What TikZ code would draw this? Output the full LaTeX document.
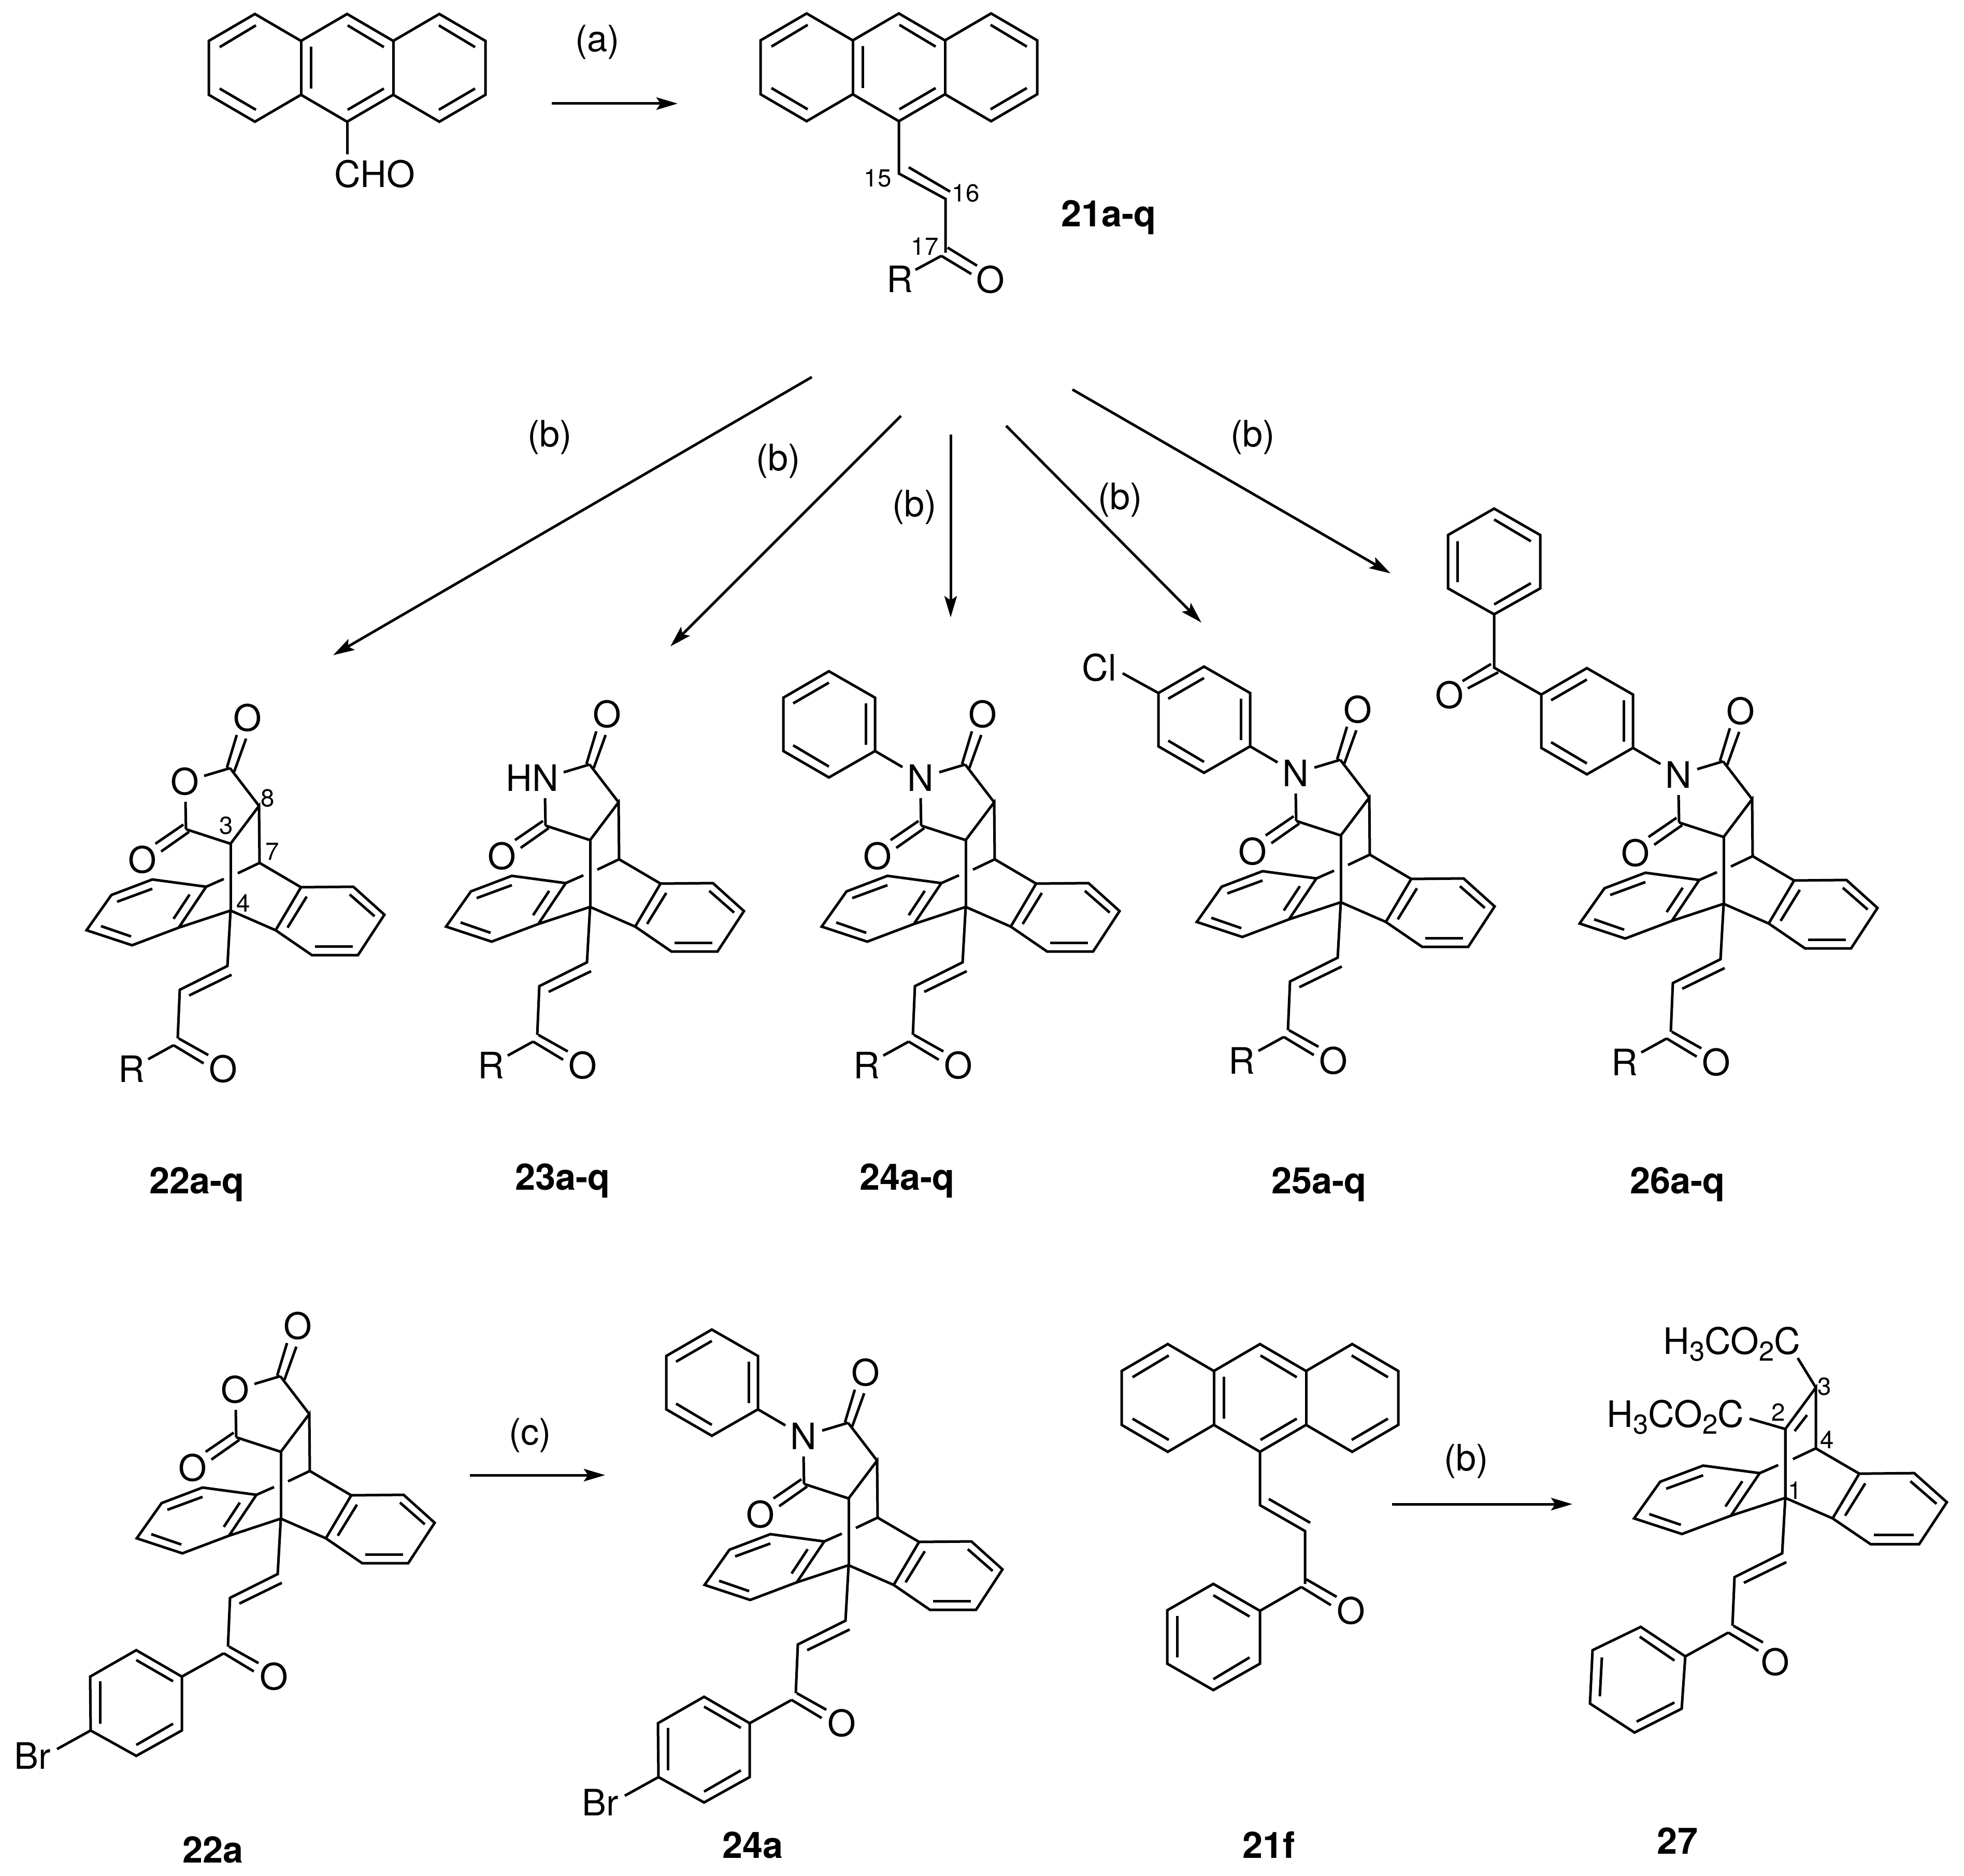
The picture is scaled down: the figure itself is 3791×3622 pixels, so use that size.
\documentclass[tikz,border=0pt]{standalone}
\usepackage{fontspec}
\setmainfont{TeX Gyre Heros}
\usetikzlibrary{arrows.meta,positioning}

\newcommand{\chemsub}[1]{\raisebox{-0.35ex}{\fontsize{15}{15}\selectfont #1}}

% Anthracene, origin at the meso carbon on its lower side
\newcommand{\anthracene}{
    \draw[bond] (-267,-156) -- (-178,-208) -- (-89,-156) -- (0,-208) -- (89,-156) -- (178,-208) -- (267,-156)
        -- (267,-52) -- (178,0) -- (89,-52) -- (0,0) -- (-89,-52) -- (-178,0) -- (-267,-52) -- cycle;
    \draw[bond] (-89,-156) -- (-89,-52);
    \draw[bond] (89,-156) -- (89,-52);
    \draw[bond] (-176,-186) -- (-246,-144);
    \draw[bond] (-246,-64) -- (-176,-23);
    \draw[bond] (-70,-145) -- (-70,-64);
    \draw[bond] (1,-186) -- (71,-144);
    \draw[bond] (1,-23) -- (71,-64);
    \draw[bond] (177,-186) -- (247,-144);
    \draw[bond] (177,-23) -- (247,-64);
}

% Bridged core, origin at the bridgehead carbon
\newcommand{\bridgedcore}{
    \draw[bond] (0,0) -- (0,-129);
    \draw[bond] (-100,33) -- (-47,-46) -- (-151,-60) -- (-230,-30) -- (-278,38) -- (-190,67) -- (-100,33) -- (0,0);
    \draw[bond] (0,0) -- (87,38) -- (136,-45) -- (237,-46) -- (297,8) -- (246,86) -- (157,86) -- (87,38);
    \draw[bond] (136,-45) -- (56,-92);
    \draw[bond] (56,-92) -- (14,-72);
    \draw[bond] (-13,-61) -- (-47,-46);
    \draw[bond] (-79,-31) -- (-110,16);
    \draw[bond] (-151,-42) -- (-219,-17);
    \draw[bond] (-250,30) -- (-192,50);
    \draw[bond] (147,-27) -- (110,33);
    \draw[bond] (230,-31) -- (278,11);
    \draw[bond] (236,69) -- (163,69);
}

% Five-membered ring on the bridge, #1 = name, #2 = hetero atom offset, #3 = its text
\newcommand{\fusedring}[3]{
    \draw[bond] (56,-92) -- (55,-202) -- (0,-129) -- (-86,-157);
    \draw[bond] (55,-202) -- (-1,-275);
    \draw[bond] (-87,-210) -- (-86,-157);
    \draw[bond] (-51,-260) -- (-1,-275);
    \draw[bond] (-91,-166) -- (-145,-129);
    \draw[bond] (-80,-152) -- (-134,-114);
    \draw[bond] (-7,-276) -- (12,-339);
    \draw[bond] (7,-268) -- (30,-332);
    \node[atom] (#1ox1) at (-170,-98) {O};
    \node[atom] (#1ox2) at (33,-372) {O};
    \node[atom] (#1het) at (#2,-249) {#3};
}

% Enone chain hanging from the bridgehead, #1 = name, #2 = place of its oxygen
\newcommand{\enone}[2]{
    \draw[bond] (0,0) -- (-6,107) -- (-98,153) -- (-102,247);
    \draw[bond] (2,124) -- (-80,164);
    \draw[bond] (-100,247) -- (-43,279);
    \draw[bond] (-110,260) -- (-52,295);
    \node[atom] (#1ox3) at (#2) {O};
}

\newcommand{\rsubst}[1]{
    \draw[bond] (-110,260) -- (-159,287);
    \node[atom] (#1r) at (-191,306) {R};
}

% 4-bromophenyl on the enone, #1 = name
\newcommand{\bromoaryl}[1]{
    \draw[bond] (-110,260) -- (-191,305) -- (-279,254) -- (-368,305) -- (-367,409) -- (-279,458) -- (-191,409) -- (-191,305);
    \draw[bond] (-208,314) -- (-279,273);
    \draw[bond] (-349,314) -- (-349,396);
    \draw[bond] (-279,437) -- (-208,396);
    \draw[bond] (-367,409) -- (-432,445);
    \node[atom] (#1br) at (-479,458) {Br};
}

% Phenyl ring on the imide nitrogen
\newcommand{\nphenyl}{
    \draw[bond] (-122,-270) -- (-175,-301) -- (-175,-404) -- (-264,-455) -- (-352,-404) -- (-352,-301) -- (-264,-250) -- (-175,-301);
    \draw[bond] (-193,-393) -- (-193,-313);
    \draw[bond] (-264,-433) -- (-333,-393);
    \draw[bond] (-333,-312) -- (-264,-271);
}

\begin{document}
\begin{tikzpicture}[
    x=0.01cm, y=-0.01cm,
    bond/.style={line width=0.05cm},
    rxnarrow/.style={line width=0.05cm, -{Stealth[length=0.41cm, width=0.24cm, inset=0.08cm]}},
    atom/.style={font=\fontsize{20}{24}\selectfont, inner sep=0pt},
    locant/.style={font=\fontsize{13.5}{16}\selectfont, inner sep=0pt},
    cmpd/.style={font=\fontsize{20}{24}\selectfont\bfseries, inner sep=0pt}
]
    \useasboundingbox (0,0) rectangle (3791,3622);

    % Anthracene-9-carbaldehyde
    \begin{scope}[shift={(670,235)}]
        \anthracene
        \draw[bond] (0,0) -- (0,63);
        \node[atom] (cho) at (53,101) {CHO};
    \end{scope}

    % Compound 21a-q
    \begin{scope}[shift={(1735,234)}]
        \anthracene
        \draw[bond] (0,0) -- (0,101) -- (90,150) -- (90,254);
        \draw[bond] (19,89) -- (99,136);
        \draw[bond] (94,244) -- (151,279);
        \draw[bond] (82,260) -- (140,295);
        \draw[bond] (82,260) -- (32,287);
        \node[atom] (r21) at (2,305) {R};
        \node[atom] (ox21) at (177,306) {O};
        \node[locant] (c15) at (-41,110) {15};
        \node[locant] (c16) at (129,139) {16};
        \node[locant] (c17) at (50,242) {17};
    \end{scope}
    \node[cmpd] (l21) at (2140,420) {21a-q};

    % Compound 22a-q
    \begin{scope}[shift={(445,1758)}]
        \bridgedcore
        \fusedring{a}{-88}{O}
        \enone{a}{-14,306}
        \rsubst{a}
        \node[locant] (c3) at (-8,-164) {3};
        \node[locant] (c8) at (72,-217) {8};
        \node[locant] (c7) at (81,-114) {7};
        \node[locant] (c4) at (25,-14) {4};
    \end{scope}
    \node[cmpd] (l22) at (380,2287) {22a-q};

    % Compound 23a-q
    \begin{scope}[shift={(1139,1751)}]
        \bridgedcore
        \fusedring{b}{-112}{HN}
        \enone{b}{-14,306}
        \rsubst{b}
    \end{scope}
    \node[cmpd] (l23) at (1086,2280) {23a-q};

    % Compound 24a-q
    \begin{scope}[shift={(1864,1751)}]
        \bridgedcore
        \fusedring{c}{-87}{N}
        \nphenyl
        \enone{c}{-14,306}
        \rsubst{c}
    \end{scope}
    \node[cmpd] (l24) at (1751,2280) {24a-q};

    % Compound 25a-q
    \begin{scope}[shift={(2588,1742)}]
        \bridgedcore
        \fusedring{d}{-87}{N}
        \nphenyl
        \draw[bond] (-352,-404) -- (-421,-442);
        \node[atom] (cl25) at (-466,-453) {Cl};
        \enone{d}{-14,306}
        \rsubst{d}
    \end{scope}
    \node[cmpd] (l25) at (2546,2287) {25a-q};

    % Compound 26a-q
    \begin{scope}[shift={(3327,1745)}]
        \bridgedcore
        \fusedring{e}{-87}{N}
        \nphenyl
        \draw[bond] (-352,-404) -- (-443,-456) -- (-443,-559) -- (-354,-609) -- (-354,-712) -- (-443,-763) -- (-532,-712) -- (-532,-609) -- (-443,-559);
        \draw[bond] (-443,-578) -- (-372,-619);
        \draw[bond] (-372,-700) -- (-443,-742);
        \draw[bond] (-514,-700) -- (-514,-621);
        \draw[bond] (-449,-463) -- (-504,-430);
        \draw[bond] (-435,-447) -- (-494,-416);
        \node[atom] (ox26) at (-529,-403) {O};
        \enone{e}{-14,306}
        \rsubst{e}
    \end{scope}
    \node[cmpd] (l26) at (3238,2287) {26a-q};

    % Compound 22a
    \begin{scope}[shift={(542,2932)}]
        \bridgedcore
        \fusedring{f}{-88}{O}
        \enone{f}{-13,305}
        \bromoaryl{f}
    \end{scope}
    \node[cmpd] (l22a) at (411,3571) {22a};

    % Compound 24a
    \begin{scope}[shift={(1638,3022)}]
        \bridgedcore
        \fusedring{g}{-87}{N}
        \nphenyl
        \enone{g}{-13,305}
        \bromoaryl{g}
    \end{scope}
    \node[cmpd] (l24a) at (1453,3562) {24a};

    % Compound 21f
    \begin{scope}[shift={(2432,2803)}]
        \anthracene
        \draw[bond] (0,0) -- (0,103) -- (87,153) -- (87,255);
        \draw[bond] (17,91) -- (97,137);
        \draw[bond] (89,246) -- (148,280);
        \draw[bond] (80,261) -- (137,296);
        \draw[bond] (80,261) -- (0,307) -- (-90,255) -- (-179,306) -- (-179,409) -- (-90,460) -- (0,409) -- (0,307);
        \draw[bond] (-20,318) -- (-90,277);
        \draw[bond] (-160,317) -- (-160,397);
        \draw[bond] (-90,439) -- (-20,397);
        \node[atom] (ox21f) at (176,307) {O};
    \end{scope}
    \node[cmpd] (l21f) at (2449,3562) {21f};

    % Compound 27
    \begin{scope}[shift={(3446,2892)}]
        \begin{scope}[xscale=1.05, yscale=1.04]
            \bridgedcore
        \end{scope}
        \draw[bond] (59,-96) -- (59,-213) -- (0,-133) -- (0,0);
        \draw[bond] (18,-129) -- (42,-160);
        \draw[bond] (59,-213) -- (24,-270);
        \draw[bond] (0,-133) -- (-69,-153);
        \enone{h}{-19,317}
        \draw[bond] (-110,260) -- (-193,306) -- (-279,249) -- (-372,294) -- (-377,397) -- (-291,453) -- (-200,407) -- (-193,306);
        \draw[bond] (-214,314) -- (-281,268);
        \draw[bond] (-354,308) -- (-358,383);
        \draw[bond] (-287,432) -- (-214,395);
        \node[atom] (est1) at (-103,-297) {H\chemsub{3}CO\chemsub{2}C};
        \node[atom] (est2) at (-212,-156) {H\chemsub{3}CO\chemsub{2}C};
        \node[locant] (n3) at (76,-215) {3};
        \node[locant] (n2) at (-13,-165) {2};
        \node[locant] (n4) at (81,-112) {4};
        \node[locant] (n1) at (19,-14) {1};
    \end{scope}
    \node[cmpd] (l27) at (3238,3554) {27};

    % Reaction arrows
    \coordinate (a1) at (1065,200);
    \coordinate (a2) at (1308,200);
    \draw[rxnarrow] (a1) -- (a2);
    \node[atom] (la) at (1153,81) {(a)};

    \coordinate (b1s) at (1567,728);
    \coordinate (b1e) at (643,1265);
    \draw[rxnarrow] (b1s) -- (b1e);
    \node[atom] (lb1) at (1061,844) {(b)};

    \coordinate (b2s) at (1739,803);
    \coordinate (b2e) at (1294,1248);
    \draw[rxnarrow] (b2s) -- (b2e);
    \node[atom] (lb2) at (1502,890) {(b)};

    \coordinate (b3s) at (1835,839);
    \coordinate (b3e) at (1835,1192);
    \draw[rxnarrow] (b3s) -- (b3e);
    \node[atom] (lb3) at (1765,979) {(b)};

    \coordinate (b4s) at (1942,822);
    \coordinate (b4e) at (2319,1202);
    \draw[rxnarrow] (b4s) -- (b4e);
    \node[atom] (lb4) at (2162,965) {(b)};

    \coordinate (b5s) at (2070,752);
    \coordinate (b5e) at (2684,1107);
    \draw[rxnarrow] (b5s) -- (b5e);
    \node[atom] (lb5) at (2418,844) {(b)};

    \coordinate (c1) at (907,2848);
    \coordinate (c2) at (1168,2848);
    \draw[rxnarrow] (c1) -- (c2);
    \node[atom] (lc) at (1023,2771) {(c)};

    \coordinate (b6s) at (2687,2904);
    \coordinate (b6e) at (3035,2904);
    \draw[rxnarrow] (b6s) -- (b6e);
    \node[atom] (lb6) at (2830,2821) {(b)};

\end{tikzpicture}
\end{document}
